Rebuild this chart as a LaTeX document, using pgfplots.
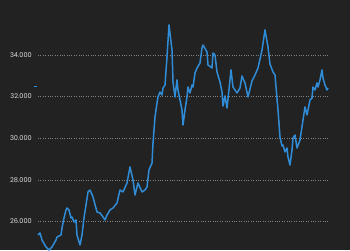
\documentclass[border=0pt]{standalone}
\usepackage{pgfplots}
\pgfplotsset{compat=1.18}
\usepackage{fontspec}
\setmainfont{Poppins}
\definecolor{bg}{RGB}{34,34,34}
\definecolor{ln}{RGB}{48,140,215}
\definecolor{gr}{RGB}{130,130,130}
\definecolor{tx}{RGB}{225,225,225}
\begin{document}
\begin{tikzpicture}
\fill[bg] (0,0) rectangle (350bp,250bp);
\begin{axis}[
  at={(38bp,0bp)}, anchor=south west,
  scale only axis, width=290bp, height=250bp,
  xmin=38, xmax=328, ymin=24624, ymax=36644,
  axis line style={draw=none}, clip=false,
  scaled y ticks=false, scaled x ticks=false,
  ytick={26000,28000,30000,32000,34000},
  yticklabels={26.000,28.000,30.000,32.000,34.000},
  xtick=\empty,
  ymajorgrids,
  major grid style={gr, dotted, line width=0.5bp},
  tick style={draw=none},
  yticklabel style={anchor=east, inner sep=0pt, text=tx, font=\fontsize{6.6}{8}\selectfont},
  yticklabel shift=6bp,
  major tick length=0pt,
]
\addplot[ln, line width=1.5bp, line join=round] table {
x y
38 25346
40 25442
42 25105
46 24769
49 24624
52 24769
56 25105
57 25249
61 25346
62 25682
64 26163
66 26548
67 26644
69 26548
71 26163
72 26211
74 25971
76 26067
77 25346
80 24865
82 25346
84 26163
86 26788
88 27413
90 27509
93 27173
97 26451
100 26403
103 26211
105 26067
107 26307
110 26548
113 26644
117 26884
120 27509
123 27413
127 27846
130 28615
133 27990
135 27269
138 27846
142 27413
145 27509
147 27653
149 28471
152 28807
153 29769
155 31019
157 31692
158 31981
160 32221
162 32077
163 32413
165 32558
167 33904
169 35442
172 34240
173 32702
175 31981
177 32798
178 32317
180 31836
182 31356
183 30634
185 31356
187 31981
188 32461
190 32173
192 32558
193 32461
195 33135
197 33375
200 33615
202 34337
203 34481
207 34144
208 33519
212 33375
213 34096
215 34000
217 33183
220 32702
222 32221
223 31548
225 32029
227 31452
228 31884
231 33279
233 32461
237 32173
240 32413
242 32990
245 32654
248 31981
252 32750
255 33038
258 33375
262 34240
265 35202
268 34385
270 33567
273 33183
275 33038
278 31356
280 30057
282 29625
283 29673
285 29336
287 29529
288 29096
290 28711
292 29432
293 30009
295 30154
297 29529
300 29913
303 30875
305 31500
307 31115
310 31836
312 31933
313 32461
315 32317
317 32654
318 32461
320 32798
322 33279
323 32894
325 32558
327 32317
328 32413
};
\addplot[ln, line width=1.2bp] coordinates {(34,32470) (37,32470)};
\end{axis}
\end{tikzpicture}
\end{document}
